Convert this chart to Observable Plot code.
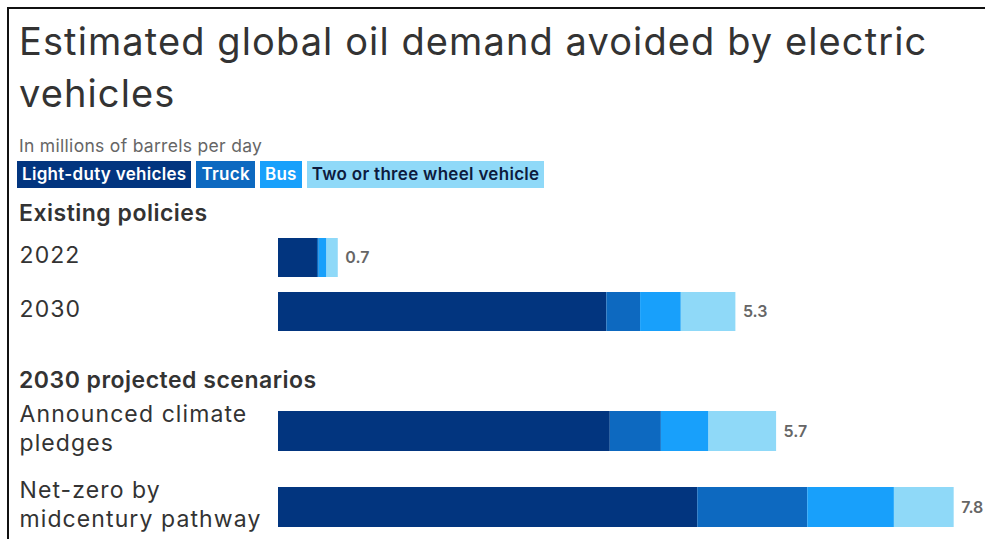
<!DOCTYPE html>
<html>
<head>
<meta charset="utf-8">
<script src="https://cdn.jsdelivr.net/npm/d3@7"></script>
<script src="https://cdn.jsdelivr.net/npm/@observablehq/plot@0.6"></script>
<style>
  html, body { margin: 0; padding: 0; background: #fff; }
  body { width: 985px; height: 539px; position: relative; overflow: hidden; font-family: Inter, "Noto Sans", sans-serif; }
  #frame { position: absolute; left: 7px; top: 7px; width: 985px; height: 539px; border-left: 2px solid #111; border-top: 2px solid #111; }
  .abs { position: absolute; left: 19px; white-space: nowrap; }
  #title { top: 15px; font-size: 38px; line-height: 52px; color: #333; font-weight: 400; letter-spacing: 1.1px; }
  #subtitle { top: 136px; font-size: 17.5px; line-height: 20px; color: #666; letter-spacing: 0.3px; }
  #legend { top: 161px; left: 17px; display: flex; gap: 5px; }
  #legend span { display: inline-block; height: 27px; line-height: 27px; padding: 0 5px; font-size: 17px; font-weight: 600; letter-spacing: 0.3px; }
  .hdr { font-size: 23px; font-weight: 600; color: #333; line-height: 26px; letter-spacing: 0.5px; }
  #h1 { top: 200px; }
  #h2 { top: 367px; }
  .plot { position: absolute; left: 0; }
  svg [aria-label="y-axis tick label"] text { letter-spacing: 1.1px; }
</style>
</head>
<body>
<div id="frame"></div>
<div id="title" class="abs">Estimated global oil demand avoided by electric<br>vehicles</div>
<div id="subtitle" class="abs">In millions of barrels per day</div>
<div id="legend" class="abs"></div>
<div id="h1" class="abs hdr">Existing policies</div>
<div id="h2" class="abs hdr">2030 projected scenarios</div>
<div id="p1" class="plot" style="top:227px"></div>
<div id="p2" class="plot" style="top:399px"></div>
<script>
// ---- data ----
const types = ["Light-duty vehicles", "Truck", "Bus", "Two or three wheel vehicle"];
const colors = ["#02357f", "#0d69c0", "#18a0fb", "#8fd9f8"];
const legendText = ["#ffffff", "#ffffff", "#ffffff", "#0d1b3e"];

const categories = ["2022", "2030", "Announced climate pledges", "Net-zero by midcentury pathway"];
const tickLabels = ["2022", "2030", "Announced climate\npledges", "Net-zero by\nmidcentury pathway"];
const groups = ["Existing policies", "Existing policies", "2030 projected scenarios", "2030 projected scenarios"];

const lightDuty = [0.45, 3.79, 3.83, 4.84];
const truck     = [0.02, 0.39, 0.59, 1.27];
const bus       = [0.09, 0.47, 0.55, 1.00];
const twoThree  = [0.13, 0.63, 0.78, 0.69];
const totals    = [0.7, 5.3, 5.7, 7.8];

// ---- build table ----
const series = [lightDuty, truck, bus, twoThree];
const rows = [];
categories.forEach((c, i) => {
  types.forEach((t, j) => rows.push({category: c, type: t, value: series[j][i], group: groups[i]}));
});
const totalRows = categories.map((c, i) => ({
  category: c, group: groups[i], total: totals[i],
  end: series.reduce((s, a) => s + a[i], 0)
}));
const labelOf = new Map(categories.map((c, i) => [c, tickLabels[i]]));

// ---- legend ----
const legend = document.getElementById("legend");
types.forEach((t, i) => {
  const s = document.createElement("span");
  s.textContent = t;
  s.style.background = colors[i];
  s.style.color = legendText[i];
  legend.appendChild(s);
});

function chart(group, opts) {
  const cats = categories.filter((c, i) => groups[i] === group);
  return Plot.plot({
    width: 985,
    height: opts.height,
    marginLeft: 278,
    marginRight: 14,
    marginTop: opts.marginTop,
    marginBottom: opts.marginBottom,
    style: {fontFamily: "Inter, 'Noto Sans', sans-serif", background: "transparent", overflow: "visible"},
    x: {domain: [0, 8], axis: null},
    y: {domain: cats, paddingInner: opts.paddingInner, paddingOuter: 0, axis: null},
    color: {domain: types, range: colors},
    marks: [
      Plot.barX(rows.filter(d => d.group === group), {x: "value", y: "category", fill: "type", insetTop: 0, insetBottom: 0}),
      Plot.text(totalRows.filter(d => d.group === group), {
        x: "end", y: "category", text: d => d.total.toFixed(1),
        textAnchor: "start", dx: 7, fontSize: 16, fontWeight: 600, fill: "#666"
      }),
      Plot.axisY({
        tickSize: 0, tickPadding: 0, textAnchor: "start", dx: 19 - 278, dy: -4,
        tickFormat: d => labelOf.get(d), fontSize: 23, lineHeight: 1.26, fill: "#333", label: null
      })
    ]
  });
}

document.getElementById("p1").appendChild(chart("Existing policies", {height: 114, marginTop: 10, marginBottom: 10, paddingInner: 0.284}));
document.getElementById("p2").appendChild(chart("2030 projected scenarios", {height: 142, marginTop: 12, marginBottom: 14, paddingInner: 0.4737}));
</script>
</body>
</html>
